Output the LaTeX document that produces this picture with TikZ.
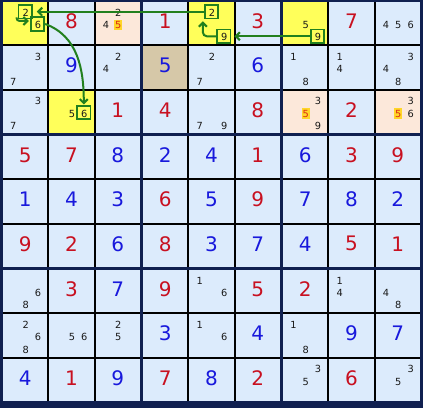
\documentclass[tikz,border=0pt]{standalone}
\usepackage{fontspec}
\setmainfont{DejaVu Sans}
\usetikzlibrary{arrows.meta}
\definecolor{frame}{RGB}{16,32,80}
\definecolor{thin}{RGB}{10,10,20}
\definecolor{cellblue}{RGB}{220,235,252}
\definecolor{hlyellow}{RGB}{255,255,90}
\definecolor{peach}{RGB}{252,232,218}
\definecolor{tan}{RGB}{214,200,168}
\definecolor{givenblue}{RGB}{24,24,220}
\definecolor{solvedred}{RGB}{200,16,32}
\definecolor{candgray}{RGB}{25,25,25}
\definecolor{linkgreen}{RGB}{34,128,30}
\definecolor{hlfive}{RGB}{255,214,40}
\definecolor{hlfivetext}{RGB}{220,40,20}
\tikzset{
  cellbox/.style={draw=none, fill=cellblue, minimum width=44.33pt, minimum height=42.33pt, inner sep=0pt, outer sep=0pt},
  big/.style={font=\fontsize{20}{20}\selectfont, inner sep=0pt},
  cand/.style={font=\fontsize{9.8}{10}\selectfont, inner sep=0pt, text=candgray},
  candhl/.style={cand, fill=hlfive, text=hlfivetext, inner xsep=1pt, inner ysep=1.5pt},
  qbox/.style={draw=linkgreen, line width=1.8pt, minimum size=13.5pt, inner sep=0pt},
  link/.style={draw=linkgreen, line width=2pt, -{Straight Barb[length=4pt,width=8pt]}},
  c11/.style={fill=hlyellow}, c15/.style={fill=hlyellow}, c17/.style={fill=hlyellow}, c32/.style={fill=hlyellow},
  c13/.style={fill=peach}, c37/.style={fill=peach}, c39/.style={fill=peach},
  c24/.style={fill=tan}
}
\newcommand\candnode[4]{% style r c d
  \pgfmathsetmacro\cdx{(mod(#4-1,3)-1)*12.3+0.5}
  \pgfmathsetmacro\cdy{(floor((#4-1)/3)-1)*12.3+1.8}
  \node[#1] (k#2#3#4) at ([shift={(\cdx,\cdy)}]cell#2#3.center) {#4};}
\begin{document}
\begin{tikzpicture}[x=1pt,y=-1pt]
\fill[frame] (0,0) rectangle (423,408);
\useasboundingbox (0,0) rectangle (423,408);
\foreach \bi in {0,1,2}{
  \foreach \bj in {0,1,2}{
    \fill[thin] ({3+\bj*140},{2+\bi*134}) rectangle ++(137,131);
  }}
\foreach \r in {1,...,9}{
  \foreach \c in {1,...,9}{
    \pgfmathsetmacro\cx{3 + floor((\c-1)/3)*140 + mod(\c-1,3)*46.333 + 22.167}
    \pgfmathsetmacro\cy{2 + floor((\r-1)/3)*134 + mod(\r-1,3)*44.333 + 21.167}
    \node[cellbox, c\r\c/.try] (cell\r\c) at (\cx,\cy) {};
  }}
% solved digits (red)
\foreach \r/\c/\d in {1/2/8,1/4/1,1/6/3,1/8/7,3/3/1,3/4/4,3/6/8,3/8/2,
  4/1/5,4/2/7,4/6/1,4/8/3,4/9/9,5/4/6,5/6/9,6/1/9,6/2/2,6/4/8,6/8/5,6/9/1,
  7/2/3,7/4/9,7/6/5,7/7/2,9/2/1,9/4/7,9/6/2,9/8/6}{
  \node[big, text=solvedred] (g\r\c) at ([yshift=2]cell\r\c.center) {\d};
}
% given digits (blue)
\foreach \r/\c/\d in {2/2/9,2/4/5,2/6/6,4/3/8,4/4/2,4/5/4,4/7/6,
  5/1/1,5/2/4,5/3/3,5/5/5,5/7/7,5/8/8,5/9/2,6/3/6,6/5/3,6/6/7,6/7/4,
  7/3/7,8/4/3,8/6/4,8/8/9,8/9/7,9/1/4,9/3/9,9/5/8}{
  \node[big, text=givenblue] (g\r\c) at ([yshift=2]cell\r\c.center) {\d};
}
% candidates
\foreach \r/\c/\d in {1/1/2,1/1/6,1/3/2,1/3/4,1/5/2,1/5/9,1/7/5,1/7/9,1/9/4,1/9/5,1/9/6,
  2/1/3,2/1/7,2/3/2,2/3/4,2/5/2,2/5/7,2/7/1,2/7/8,2/8/1,2/8/4,2/9/3,2/9/4,2/9/8,
  3/1/3,3/1/7,3/2/5,3/2/6,3/5/7,3/5/9,3/7/3,3/7/9,3/9/3,3/9/6,
  7/1/6,7/1/8,7/5/1,7/5/6,7/8/1,7/8/4,7/9/4,7/9/8,
  8/1/2,8/1/6,8/1/8,8/2/5,8/2/6,8/3/2,8/3/5,8/5/1,8/5/6,8/7/1,8/7/8,
  9/7/3,9/7/5,9/9/3,9/9/5}{
  \candnode{cand}{\r}{\c}{\d}
}
\foreach \r/\c/\d in {1/3/5,3/7/5,3/9/5}{
  \candnode{candhl}{\r}{\c}{\d}
}
% boxed candidates
\foreach \n in {112,116,152,159,179,326}{
  \node[qbox] (q\n) at ([shift={(-0.5,-1)}]k\n) {};
}
% chain
\draw[link, shorten >=3pt] (q179.west) -- (q159.east);
\draw[link, rounded corners=4pt, shorten >=2pt] (q159.west) -| ([xshift=-1pt]q152.south west);
\draw[link, shorten >=4pt] (q152.west) -- (q112.east);
\draw[link, rounded corners=3pt, shorten >=1pt] ([xshift=-1pt,yshift=2pt]q112.south west) |- ([yshift=3pt]q116.west);
\draw[link, shorten >=0.5pt] (q116.east) to[out=-20, in=90] (q326.north);
\end{tikzpicture}
\end{document}
